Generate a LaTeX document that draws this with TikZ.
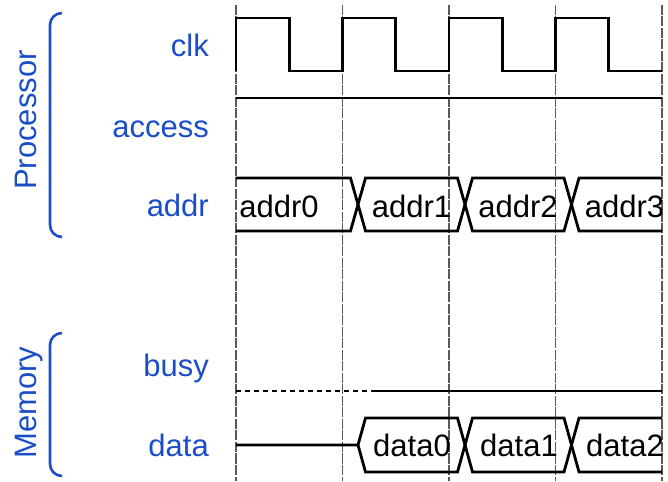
\documentclass[tikz,border=0pt]{standalone}
\usepackage{fontspec}
\setmainfont{Liberation Sans}
\usetikzlibrary{calc}

\definecolor{sigblue}{HTML}{1A4DC8}

\begin{document}
\begin{tikzpicture}[x=1pt, y=1pt, line join=miter,
  wave/.style={line width=2.8pt},
  grid line/.style={draw=black!65, line width=1.1pt, dash pattern=on 10pt off 1.5pt},
  big text/.style={inner sep=0pt, font=\fontsize{31}{36}\selectfont},
  sig name/.style={big text, text=sigblue, anchor=base east},
  bus text/.style={big text, anchor=base},
  group name/.style={big text, text=sigblue, rotate=90, anchor=base},
  bracket/.style={draw=sigblue, line width=2.6pt, rounded corners=12pt}]

  \useasboundingbox (0,0) rectangle (668,481);

  % ===== Parameters =====
  \def\xs{236}     % start of the time axis
  \def\xe{662}     % end of the time axis
  \def\T{106.5}    % clock period
  \def\sk{7.5}     % half width of a bus crossing
  \def\ta{358}     % first bus change
  \def\tb{465}     % second bus change
  \def\tc{571.5}   % third bus change

  % ===== Clock grid =====
  \foreach \k in {0,...,4}
    \draw[grid line] ({\xs+\k*\T},476) -- ({\xs+\k*\T},0);

  % ===== Signal names =====
  \node[sig name] (clk)    at (209,424) {clk};
  \node[sig name] (access) at (209,343) {access};
  \node[sig name] (addr)   at (209,264) {addr};
  \node[sig name] (busy)   at (209,104) {busy};
  \node[sig name] (data)   at (209,24)  {data};

  % ===== Groups =====
  \node[group name] (proc) at (36,361)  {Processor};
  \node[group name] (mem)  at (36,78.5) {Memory};
  \draw[bracket] (62,468) -- (50,468) -- (50,244) -- (62,244);
  \draw[bracket] (62,148) -- (50,148) -- (50,5) -- (62,5);

  % ===== clk =====
  \draw[wave] (\xs,410) \foreach \k in {0,...,3} {
      -- ++(0,53) -- ++({\T/2},0) -- ++(0,-53) -- ++({\T/2},0) };

  % ===== access =====
  \draw[wave] (\xs,383) -- (\xe,383);

  % ===== addr bus =====
  \def\at{303} \def\ab{250} \def\am{276.5}
  \draw[wave] (\xs,\at) -- (\ta-\sk,\at) -- (\ta+\sk,\ab) -- (\tb-\sk,\ab)
      -- (\tb+\sk,\at) -- (\tc-\sk,\at) -- (\tc+\sk,\ab) -- (\xe,\ab);
  \draw[wave] (\xs,\ab) -- (\ta-\sk,\ab) -- (\ta+\sk,\at) -- (\tb-\sk,\at)
      -- (\tb+\sk,\ab) -- (\tc-\sk,\ab) -- (\tc+\sk,\at) -- (\xe,\at);
  \node[bus text] (addr0) at (279,263)   {addr0};
  \node[bus text] (addr1) at (411.5,263) {addr1};
  \node[bus text] (addr2) at (518,263)   {addr2};
  \node[bus text] (addr3) at (624.5,263) {addr3};

  % ===== busy =====
  \draw[wave, dash pattern=on 5pt off 4pt] (\xs,90) -- (375,90);
  \draw[wave] (375,90) -- (\xe,90);

  % ===== data bus =====
  \def\dt{63} \def\db{9} \def\dm{36}
  \draw[wave] (\xs,\dm) -- (\ta,\dm) -- (\ta+\sk,\dt) -- (\tb-\sk,\dt)
      -- (\tb+\sk,\db) -- (\tc-\sk,\db) -- (\tc+\sk,\dt) -- (\xe,\dt);
  \draw[wave] (\ta,\dm) -- (\ta+\sk,\db) -- (\tb-\sk,\db)
      -- (\tb+\sk,\dt) -- (\tc-\sk,\dt) -- (\tc+\sk,\db) -- (\xe,\db);
  \node[bus text] (data0) at (412,24) {data0};
  \node[bus text] (data1) at (519,24) {data1};
  \node[bus text] (data2) at (625,24) {data2};

\end{tikzpicture}
\end{document}
